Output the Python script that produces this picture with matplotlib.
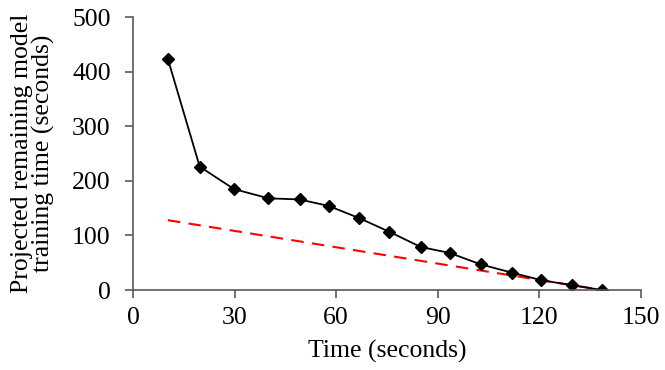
import numpy as np
import matplotlib
matplotlib.use('Agg')
import matplotlib.pyplot as plt

plt.rcParams['font.family'] = ['Liberation Serif', 'DejaVu Serif']

# measured points
time_s = [10.3, 19.7, 29.8, 40.0, 49.2, 57.8, 66.7, 75.6, 84.9, 93.5, 102.7, 111.8, 120.6, 129.6, 138.6]
remaining = [423, 226, 185, 168, 166, 154, 132, 107, 79, 68, 47, 32, 18, 9, 0]

# ideal projection (red dashed)
ideal_t = [10.3, 138.6]
ideal_r = [128, 0]

xticks = [0, 30, 60, 90, 120, 150]
yticks = [0, 100, 200, 300, 400, 500]

fig = plt.figure(figsize=[6.65, 3.7], dpi=100)
ax = fig.add_axes([0.2, 0.216, 0.764, 0.738])

ax.plot(ideal_t, ideal_r, color='#ff0000', linestyle=(0, (6, 4)), linewidth=1.5)
ax.plot(time_s, remaining, color='black', linewidth=1.3, marker='D', markersize=6.5)

ax.set_xlim(0, 150)
ax.set_ylim(0, 500)
ax.set_xticks(xticks)
ax.set_yticks(yticks)

for side in ['top', 'right']:
    ax.spines[side].set_visible(False)
for side in ['left', 'bottom']:
    ax.spines[side].set_color('#595959')
    ax.spines[side].set_linewidth(1.2)
ax.tick_params(direction='out', length=6, width=1.2, color='#595959', labelsize=18.5)
ax.tick_params(axis='y', pad=10)
ax.tick_params(axis='x', pad=6)

ax.set_xlabel('Time (seconds)', fontsize=18.5, labelpad=8)
ax.set_ylabel('Projected remaining model\ntraining time (seconds)', fontsize=18.5, labelpad=12, linespacing=0.95)

fig.savefig('out.png', dpi=100)
